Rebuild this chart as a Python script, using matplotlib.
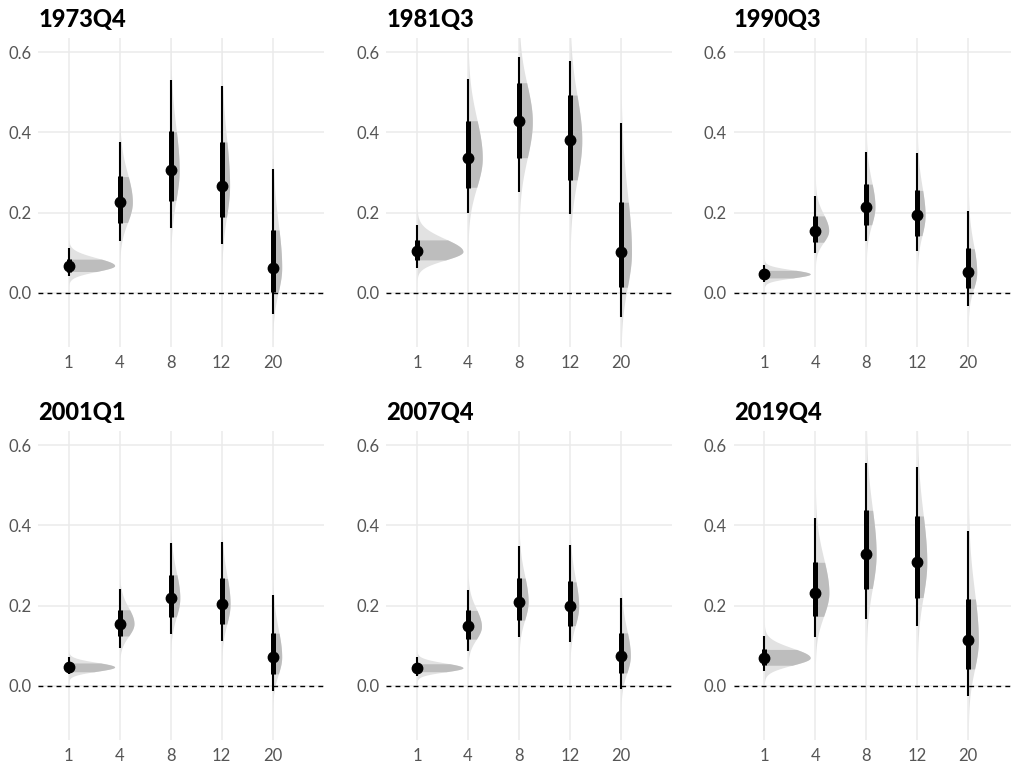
import numpy as np
import matplotlib
matplotlib.use("Agg")
import matplotlib.pyplot as plt

plt.rcParams['font.family'] = ['Lato', 'DejaVu Sans']

quarters = ["1973Q4", "1981Q3", "1990Q3", "2001Q1", "2007Q4", "2019Q4"]
horizons = ["1", "4", "8", "12", "20"]

# medians and interval bounds per quarter (rows) and horizon (cols)
median = [[0.068, 0.226, 0.306, 0.267, 0.063],
          [0.103, 0.336, 0.427, 0.381, 0.101],
          [0.047, 0.155, 0.215, 0.193, 0.051],
          [0.047, 0.155, 0.219, 0.204, 0.072],
          [0.045, 0.148, 0.210, 0.198, 0.075],
          [0.070, 0.232, 0.329, 0.308, 0.113]]
lo66 = [[0.053, 0.175, 0.229, 0.188, 0.001],
        [0.082, 0.262, 0.336, 0.281, 0.014],
        [0.037, 0.126, 0.169, 0.142, 0.011],
        [0.035, 0.124, 0.171, 0.153, 0.029],
        [0.035, 0.116, 0.163, 0.150, 0.032],
        [0.051, 0.173, 0.242, 0.219, 0.041]]
hi66 = [[0.084, 0.290, 0.403, 0.376, 0.157],
        [0.132, 0.429, 0.524, 0.493, 0.227],
        [0.056, 0.192, 0.271, 0.256, 0.111],
        [0.057, 0.190, 0.277, 0.268, 0.132],
        [0.055, 0.188, 0.269, 0.260, 0.132],
        [0.091, 0.308, 0.439, 0.424, 0.217]]
lo95 = [[0.041, 0.128, 0.161, 0.122, -0.053],
        [0.062, 0.200, 0.250, 0.196, -0.059],
        [0.028, 0.099, 0.129, 0.103, -0.032],
        [0.029, 0.094, 0.130, 0.112, -0.012],
        [0.025, 0.087, 0.122, 0.109, -0.009],
        [0.036, 0.122, 0.167, 0.148, -0.026]]
hi95 = [[0.111, 0.377, 0.530, 0.515, 0.309],
        [0.169, 0.532, 0.587, 0.578, 0.423],
        [0.070, 0.242, 0.350, 0.348, 0.205],
        [0.072, 0.242, 0.357, 0.359, 0.227],
        [0.072, 0.240, 0.349, 0.351, 0.219],
        [0.123, 0.417, 0.555, 0.546, 0.387]]

dark = "#bdbdbd"
light = "#e2e2e2"

W, H = 1012, 766
fig = plt.figure(figsize=(W / 100, H / 100), dpi=100)

col_left = [38.1, 386.4, 733.7]
row_top = [38, 431]
ax_w, ax_h = 285.6, 309
xlim = (-0.6, 5.0)
ylim = (-0.135, 0.635)


def split_normal(m, l66, h66, l95, h95):
    s_lo = 0.5 * ((m - l66) / 0.954 + (m - l95) / 1.96)
    s_hi = 0.5 * ((h66 - m) / 0.954 + (h95 - m) / 1.96)
    y = np.linspace(m - 4 * s_lo, m + 4 * s_hi, 400)
    s = np.where(y < m, s_lo, s_hi)
    d = np.sqrt(2 / np.pi) / (s_lo + s_hi) * np.exp(-(y - m) ** 2 / (2 * s ** 2))
    return y, d


for k, q in enumerate(quarters):
    r, c = divmod(k, 3)
    ax = fig.add_axes([col_left[c] / W, 1 - (row_top[r] + ax_h) / H, ax_w / W, ax_h / H])
    ax.set_xlim(*xlim)
    ax.set_ylim(*ylim)
    for s in ax.spines.values():
        s.set_visible(False)
    ax.set_yticks([0.0, 0.2, 0.4, 0.6])
    ax.set_yticklabels(["0.0", "0.2", "0.4", "0.6"])
    ax.set_xticks(range(len(horizons)))
    ax.set_xticklabels(horizons)
    ax.tick_params(length=0, labelsize=12, labelcolor="#555555", pad=5)
    ax.tick_params(axis="x", pad=6)
    ax.grid(True, color="#ebebeb", linewidth=1.1)
    ax.set_axisbelow(True)

    dens = [split_normal(median[k][i], lo66[k][i], hi66[k][i], lo95[k][i], hi95[k][i])
            for i in range(len(horizons))]
    dmax = max(d.max() for _, d in dens)
    for i, (y, d) in enumerate(dens):
        w = 0.9 * d / dmax
        ax.fill_betweenx(y, i, i + w, color=light, linewidth=0, zorder=2)
        inner = (y >= lo66[k][i]) & (y <= hi66[k][i])
        ax.fill_betweenx(y[inner], i, i + w[inner], color=dark, linewidth=0, zorder=2.1)

    ax.axhline(0, color="black", linestyle=(0, (3.5, 3)), linewidth=1.0, zorder=3)

    for i in range(len(horizons)):
        ax.plot([i, i], [lo95[k][i], hi95[k][i]], color="black", linewidth=1.5,
                solid_capstyle="butt", zorder=4)
        ax.plot([i, i], [lo66[k][i], hi66[k][i]], color="black", linewidth=3.6,
                solid_capstyle="butt", zorder=4)
        ax.plot(i, median[k][i], "o", color="black", markersize=7.5, zorder=5)

    ax.set_title(q, loc="left", fontsize=17, fontweight="black", pad=8, x=0.0)

fig.savefig("out.png", dpi=100)
